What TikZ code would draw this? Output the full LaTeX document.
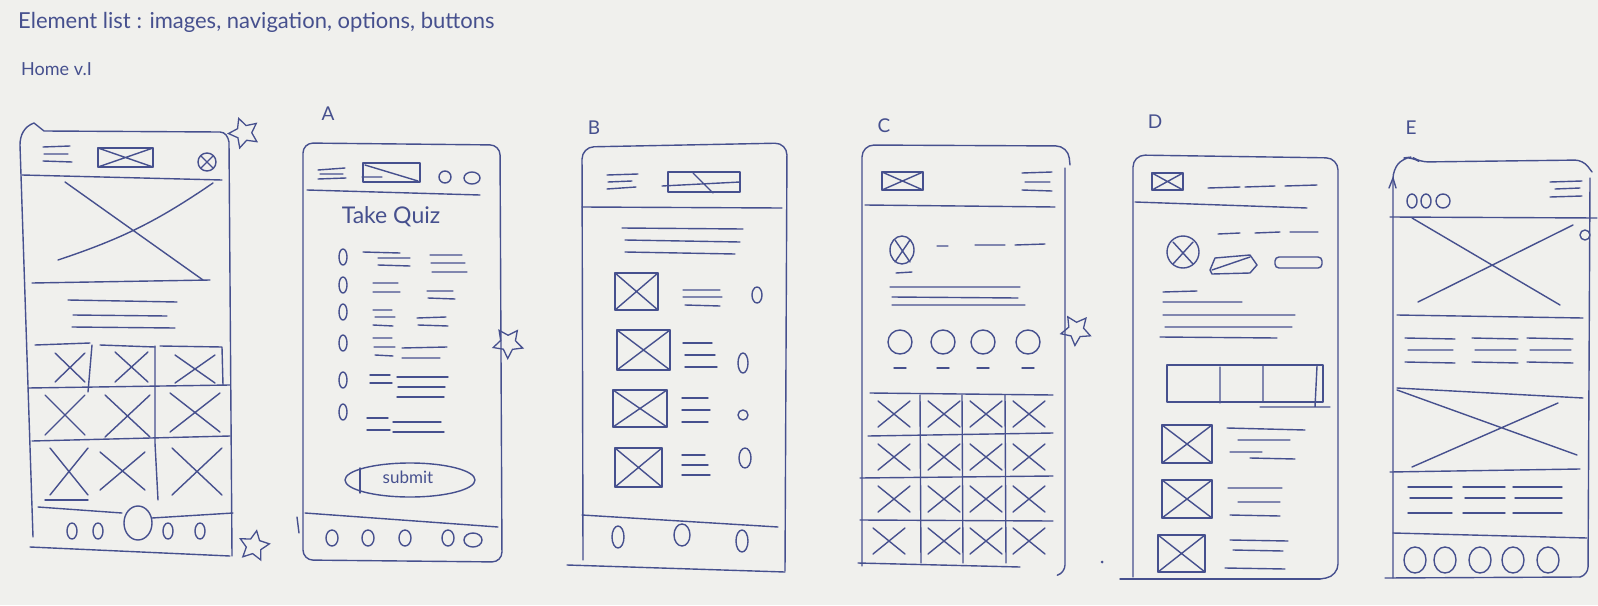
\documentclass[tikz,border=0pt]{standalone}
\usepackage{fontspec}
\setmainfont{Lato}
\usetikzlibrary{shapes.geometric}
\definecolor{inkc}{RGB}{70,80,142}
\definecolor{paper}{RGB}{240,240,237}
\newcommand\wfCross[4]{\draw[ink] (#1,#2)--(#3,#4) (#1,#4)--(#3,#2);}
\newcommand\wfXbox[4]{\draw[ink] (#1,#2) rectangle (#3,#4); \draw[ink] (#1,#2)--(#3,#4) (#1,#4)--(#3,#2);}
\begin{document}
\begin{tikzpicture}[x=1pt,y=-1pt,
  ink/.style={draw=inkc,line width=1.4pt,line cap=round,line join=round},
  hand/.style={text=inkc,inner sep=0pt,font=\fontsize{19}{22}\selectfont},
  starmark/.style={star,star points=5,star point ratio=2.0,draw=inkc,line width=1.3pt,inner sep=0pt,minimum size=31pt}]
\fill[paper] (0,0) rectangle (1598,605);
\useasboundingbox (0,0) rectangle (1598,605);

% ---------- titles ----------
\node[hand,anchor=west,font=\fontsize{22}{26}\selectfont] (title) at (18,22) {Element list : images, navigation, options, buttons};
\node[hand,anchor=west,font=\fontsize{18}{21}\selectfont] (home) at (21,69) {Home v.I};
\node[hand] (labA) at (328,114) {A};
\node[hand] (labB) at (594,128) {B};
\node[hand] (labC) at (884,126) {C};
\node[hand] (labD) at (1155,122) {D};
\node[hand] (labE) at (1411,128) {E};

% ---------- Phone Home ----------
\draw[ink] (33,537) -- (20,145) to[out=90,in=200] (34,123) -- (44,131) -- (220,132) to[out=0,in=100] (229,142) -- (232,556);
\draw[ink] (30,547) -- (230,556);
\draw[ink] (22,175) -- (222,180);
\draw[ink] (43,147)--(70,146) (44,154)--(68,154) (43,161)--(72,162);
\wfXbox{98}{148}{153}{167}
\draw[ink] (207,162) circle [radius=9];
\wfCross{201}{156}{213}{168}
\draw[ink] (65,182) -- (203,280) (58,260) to[bend right=8] (213,183);
\draw[ink] (32,283) -- (210,280);
\draw[ink] (68,300)--(177,302) (73,315)--(167,316) (72,327)--(175,328);
% grid
\draw[ink] (35,345)--(90,343) (100,345)--(155,347) (160,346)--(222,347)--(223,385);
\draw[ink] (28,388)--(230,385) (32,441)--(230,436);
\draw[ink] (92,345)--(88,392) (155,346)--(155,443) (155,443)--(158,500);
\draw[ink] (45,500)--(88,500);
\wfCross{55}{353}{85}{382}
\wfCross{115}{352}{148}{382}
\wfCross{175}{355}{215}{383}
\wfCross{45}{395}{85}{435}
\wfCross{105}{395}{150}{437}
\wfCross{170}{393}{220}{432}
\wfCross{50}{448}{88}{495}
\wfCross{100}{452}{145}{490}
\wfCross{172}{448}{222}{495}
% bottom nav
\draw[ink] (38,507)--(122,513) (152,518)--(233,513);
\draw[ink] (138,523) ellipse [x radius=14, y radius=17];
\foreach \cx in {72,98,168,200} {\draw[ink] (\cx,531) ellipse [x radius=5, y radius=8];}
\node[starmark,rotate=20] (star1) at (244,133) {};
\node[starmark,rotate=-10] (star2) at (254,546) {};

% ---------- Phone A ----------
\draw[ink,rounded corners=10] (303,560) -- (303,143) -- (500,145) -- (502,562) -- cycle;
\draw[ink] (307,190) -- (480,195);
\draw[ink] (318,170)--(345,168) (320,174)--(343,174) (318,179)--(346,178);
\draw[ink] (363,163) rectangle (420,182);
\draw[ink] (365,165)--(418,181) (362,177)--(382,177);
\draw[ink] (445,177) circle [radius=6];
\draw[ink] (472,178) ellipse [x radius=8, y radius=6];
\node[hand,font=\fontsize{23}{27}\selectfont] (quiz) at (391,217) {Take Quiz};
\foreach \cy in {257,285,312,343,380,412} {\draw[ink] (343,\cy) ellipse [x radius=4, y radius=8];}
\draw[ink] (363,252)--(400,253) (378,258)--(410,258) (378,265)--(410,266) (430,255)--(462,255) (431,263)--(465,263) (432,272)--(467,272);
\draw[ink] (373,283)--(398,283) (373,292)--(400,292) (427,291)--(453,291) (428,298)--(455,299);
\draw[ink] (373,310)--(392,310) (375,317)--(395,317) (373,325)--(393,326) (417,318)--(446,317) (418,325)--(448,326);
\draw[ink] (373,338)--(392,338) (374,347)--(395,347) (375,355)--(393,356) (402,348)--(447,347) (402,358)--(440,358);
\draw[ink] (370,375)--(390,375) (370,383)--(392,383) (397,377)--(448,377) (398,387)--(445,387) (397,397)--(444,397);
\draw[ink] (367,418)--(388,418) (367,430)--(390,430) (393,422)--(441,422) (393,432)--(444,432);
\draw[ink] (410,480) ellipse [x radius=65, y radius=17];
\draw[ink] (360,468)--(360,493);
\node[hand,font=\fontsize{17}{20}\selectfont] (submit) at (408,477) {submit};
\draw[ink] (305,513) -- (498,527);
\foreach \cx in {332,368,405,448} {\draw[ink] (\cx,538) ellipse [x radius=6, y radius=8];}
\draw[ink] (473,540) ellipse [x radius=9, y radius=7];
\draw[ink] (297,517)--(299,533);
\node[starmark,rotate=35] (star3) at (508,343) {};

% ---------- Phone B ----------
\draw[ink,rounded corners=12] (583,560) -- (582,147) -- (787,143) -- (785,571);
\draw[ink] (567,565) -- (785,572);
\draw[ink] (582,207) -- (782,208);
\draw[ink] (607,175)--(638,174) (608,182)--(632,181) (607,189)--(636,187);
\draw[ink] (668,172) rectangle (740,192);
\draw[ink] (662,186)--(740,182) (693,173)--(713,193);
\draw[ink] (622,228)--(743,229) (625,240)--(740,242) (625,252)--(735,254);
\wfXbox{615}{273}{658}{310}
\draw[ink] (683,290)--(720,290) (683,297)--(722,297) (685,305)--(720,306);
\draw[ink] (757,295) ellipse [x radius=5, y radius=8];
\wfXbox{617}{330}{670}{370}
\draw[ink] (683,343)--(712,343) (685,355)--(715,355) (685,367)--(717,367);
\draw[ink] (743,363) ellipse [x radius=5, y radius=10];
\wfXbox{613}{390}{667}{427}
\draw[ink] (682,398)--(708,398) (682,410)--(710,410) (682,422)--(708,422);
\draw[ink] (743,415) ellipse [x radius=5, y radius=5];
\wfXbox{615}{448}{662}{487}
\draw[ink] (682,455)--(705,455) (682,465)--(708,465) (682,475)--(710,475);
\draw[ink] (745,458) ellipse [x radius=6, y radius=10];
\draw[ink] (582,515) -- (778,527);
\draw[ink] (618,537) ellipse [x radius=6, y radius=11];
\draw[ink] (682,535) ellipse [x radius=8, y radius=11];
\draw[ink] (742,541) ellipse [x radius=6, y radius=11];

% ---------- Phone C ----------
\draw[ink,rounded corners=12] (862,566) -- (862,145) -- (1068,146) -- (1070,165);
\draw[ink,rounded corners=8] (1065,168) -- (1065,573) -- (1058,575);
\draw[ink] (858,563) -- (1020,567);
\draw[ink] (865,205) -- (1055,207);
\wfXbox{882}{172}{923}{190}
\draw[ink] (1022,173)--(1052,172) (1025,182)--(1050,182) (1022,190)--(1052,191);
\draw[ink] (902,250) ellipse [x radius=12, y radius=14];
\wfCross{895}{240}{910}{262}
\draw[ink] (896,273)--(912,272);
\draw[ink] (937,246)--(948,246) (975,245)--(1005,245) (1015,245)--(1045,244);
\draw[ink] (890,287)--(1020,287) (892,297)--(1018,298) (892,305)--(1025,305);
\foreach \cx in {900,943,983,1028} {\draw[ink] (\cx,342) circle [radius=12]; \draw[ink] (\cx-6,368)--(\cx+6,368);}
\node[starmark,rotate=-40] (star4) at (1076,330) {};
% grid 4x4
\draw[ink] (870,393)--(1053,395) (868,436)--(1053,433) (860,478)--(1053,476) (860,520)--(1053,521);
\foreach \vx in {920,962,1005} {\draw[ink] (\vx,395)--(\vx+1,563);}
\foreach \gx/\gy in {870/393,920/393,962/393,1005/393,870/436,920/436,962/436,1005/436,870/478,920/478,962/478,1005/478,865/520,920/520,962/520,1005/520}
  {\wfCross{\gx+8}{\gy+8}{\gx+40}{\gy+34}}

% ---------- Phone D ----------
\draw[ink,rounded corners=12] (1133,577) -- (1133,155) -- (1338,158) -- (1338,576) -- (1320,579);
\draw[ink] (1120,579) -- (1320,579);
\draw[ink] (1135,202) -- (1307,208);
\wfXbox{1152}{173}{1183}{190}
\draw[ink] (1208,188)--(1240,187) (1245,187)--(1275,186) (1285,186)--(1317,185);
\draw[ink] (1183,252) circle [radius=16];
\wfCross{1173}{242}{1193}{264}
\draw[ink] (1218,234)--(1240,233) (1255,233)--(1280,232) (1290,232)--(1318,232);
\draw[ink] (1210,270)--(1215,258)--(1250,255)--(1257,265)--(1250,273)--(1212,274)--cycle;
\draw[ink] (1212,270)--(1250,257);
\draw[ink,rounded corners=4] (1275,257) rectangle (1322,268);
\draw[ink] (1163,292)--(1197,291) (1163,302)--(1242,302) (1163,315)--(1295,315) (1165,327)--(1292,327) (1160,337)--(1277,338);
\draw[ink] (1167,365) rectangle (1323,402);
\draw[ink] (1220,367)--(1220,403) (1263,365)--(1263,402) (1317,366)--(1315,407) (1260,407)--(1330,407);
\wfXbox{1162}{425}{1212}{463}
\draw[ink] (1227,428)--(1305,430) (1238,440)--(1290,440) (1230,452)--(1262,452) (1250,458)--(1295,459);
\wfXbox{1162}{480}{1212}{518}
\draw[ink] (1228,488)--(1282,488) (1238,502)--(1280,502) (1230,515)--(1280,516);
\wfXbox{1158}{535}{1205}{572}
\draw[ink] (1230,540)--(1288,541) (1233,550)--(1283,551) (1225,568)--(1285,569);
\fill[inkc] (1102,562) circle [radius=1.5];

% ---------- Phone E ----------
\draw[ink,rounded corners=8] (1393,578) -- (1393,170) -- (1403,158) -- (1412,157) -- (1420,162) -- (1583,160) -- (1592,172);
\draw[ink,rounded corners=8] (1590,178) -- (1588,575) -- (1580,577);
\draw[ink] (1385,578) -- (1580,577);
\draw[ink] (1389,188)--(1393,178)--(1396,188);
\draw[ink] (1412,201) ellipse [x radius=5, y radius=7];
\draw[ink] (1426,201) ellipse [x radius=5, y radius=7];
\draw[ink] (1443,201) ellipse [x radius=7, y radius=7];
\draw[ink] (1550,182)--(1582,181) (1555,189)--(1580,188) (1550,197)--(1582,196);
\draw[ink] (1390,217) -- (1597,218);
\draw[ink] (1412,218) -- (1560,305) (1418,302) -- (1573,225);
\draw[ink] (1585,235) circle [radius=5];
\draw[ink] (1397,315) -- (1583,318);
\foreach \ax/\bx in {1405/1455,1472/1518,1527/1573} {\draw[ink] (\ax,338)--(\bx,339) (\ax+3,350)--(\bx-2,350) (\ax,362)--(\bx,363);}
\draw[ink] (1397,388) -- (1583,398);
\draw[ink] (1397,390) -- (1577,455) (1412,467) -- (1558,403);
\draw[ink] (1390,472) -- (1580,469);
\foreach \ax/\bx in {1408/1452,1463/1505,1513/1562} {\draw[ink] (\ax,487)--(\bx,487) (\ax+2,498)--(\bx,498) (\ax,513)--(\bx,513);}
\draw[ink] (1393,533) -- (1587,538);
\foreach \cx in {1415,1445,1480,1513,1548} {\draw[ink] (\cx,560) ellipse [x radius=11, y radius=13];}
\end{tikzpicture}
\end{document}
